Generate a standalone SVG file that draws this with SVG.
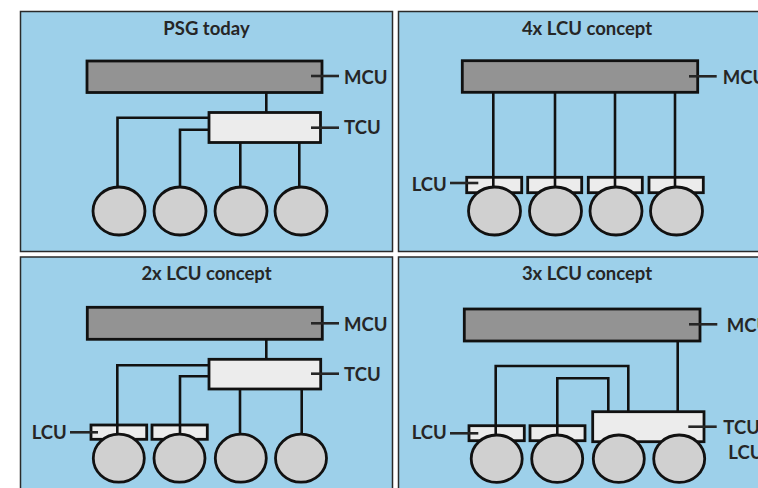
<svg xmlns="http://www.w3.org/2000/svg" width="758" height="488" viewBox="0 0 758 488">
<style>
.panel{fill:#9dd0ea;stroke:#2a2a2a;stroke-width:1.5}
.mcu{fill:#939393;stroke:#111;stroke-width:2.8}
.box{fill:#ececec;stroke:#111;stroke-width:2.8}
.wheel{fill:#d0d0d0;stroke:#111;stroke-width:2.8}
.conn{fill:none;stroke:#111;stroke-width:2.6}
.lead{fill:none;stroke:#262626;stroke-width:2.6}
.title{font-family:Lato,"Liberation Sans",sans-serif;font-weight:bold;font-size:18.5px;fill:#262626;text-anchor:middle}
.lbl{font-family:Lato,"Liberation Sans",sans-serif;font-weight:bold;font-size:18.5px;fill:#262626}
</style>
<rect width="758" height="488" fill="#ffffff"/>
<g id="panels">
<rect class="panel" x="20.5" y="11.5" width="372" height="240"/>
<rect class="panel" x="398.5" y="11.5" width="372" height="240"/>
<rect class="panel" x="20.5" y="257" width="372" height="245"/>
<rect class="panel" x="398.5" y="257" width="372" height="245"/>
</g>
<g id="titles">
<text class="title" x="206.5" y="35">PSG today</text>
<text class="title" x="587" y="35">4x LCU concept</text>
<text class="title" x="206.5" y="280">2x LCU concept</text>
<text class="title" x="587" y="280">3x LCU concept</text>
</g>
<!-- box nodes -->
<g id="p1-mcu"><rect class="mcu" x="87" y="61" width="235" height="31.5"/></g>
<g id="p1-tcu"><rect class="box" x="209" y="112.5" width="111.5" height="30"/></g>
<g id="p2-mcu"><rect class="mcu" x="462.3" y="60.7" width="235.4" height="31.6"/></g>
<g id="p2-lcu1"><rect class="box" x="466.7" y="177.3" width="55" height="15.4"/></g>
<g id="p2-lcu2"><rect class="box" x="527.7" y="177.3" width="54" height="15.4"/></g>
<g id="p2-lcu3"><rect class="box" x="588.3" y="177.3" width="54" height="15.4"/></g>
<g id="p2-lcu4"><rect class="box" x="649" y="177.3" width="54.3" height="15.4"/></g>
<g id="p3-mcu"><rect class="mcu" x="87.3" y="307.3" width="235" height="32"/></g>
<g id="p3-tcu"><rect class="box" x="209" y="359.3" width="111.7" height="29.7"/></g>
<g id="p3-lcu1"><rect class="box" x="91" y="425" width="55.7" height="14.3"/></g>
<g id="p3-lcu2"><rect class="box" x="152" y="425" width="55.3" height="14.3"/></g>
<g id="p4-mcu"><rect class="mcu" x="464.3" y="309" width="235.7" height="32"/></g>
<g id="p4-tculcu"><rect class="box" x="592.7" y="411.7" width="111.3" height="30"/></g>
<g id="p4-lcu1"><rect class="box" x="469" y="425.7" width="55.3" height="15"/></g>
<g id="p4-lcu2"><rect class="box" x="530" y="425.7" width="55" height="15"/></g>
<g id="connectors">
<path class="conn" d="M266.3 92.5V112.5"/>
<path class="conn" d="M209 117.7H117.5V187"/>
<path class="conn" d="M209 129.7H180V187"/>
<path class="conn" d="M240.3 142.5V187"/>
<path class="conn" d="M299.3 142.5V187"/>
<path class="conn" d="M493.3 92.3V187"/>
<path class="conn" d="M555 92.3V187"/>
<path class="conn" d="M615 92.3V187"/>
<path class="conn" d="M675 92.3V187"/>
<path class="conn" d="M266.3 339.3V359.3"/>
<path class="conn" d="M209 365.3H117.3V434"/>
<path class="conn" d="M209 376.3H180V434"/>
<path class="conn" d="M240 389V434"/>
<path class="conn" d="M301.7 389V434"/>
<path class="conn" d="M677.7 341V411.7"/>
<path class="conn" d="M495.7 435V366H628.3V411.7"/>
<path class="conn" d="M557.3 435V378.3H608.3V411.7"/>
</g>
<!-- wheel nodes -->
<g id="p1-w1"><ellipse class="wheel" cx="119" cy="211" rx="26" ry="24"/></g>
<g id="p1-w2"><ellipse class="wheel" cx="180" cy="211" rx="26" ry="24"/></g>
<g id="p1-w3"><ellipse class="wheel" cx="241" cy="211" rx="26" ry="24"/></g>
<g id="p1-w4"><ellipse class="wheel" cx="301" cy="211" rx="26" ry="24"/></g>
<g id="p2-w1"><ellipse class="wheel" cx="494.5" cy="211" rx="26" ry="24"/></g>
<g id="p2-w2"><ellipse class="wheel" cx="555.5" cy="211" rx="26" ry="24"/></g>
<g id="p2-w3"><ellipse class="wheel" cx="616" cy="211" rx="26" ry="24"/></g>
<g id="p2-w4"><ellipse class="wheel" cx="676.5" cy="211" rx="26" ry="24"/></g>
<g id="p3-w1"><ellipse class="wheel" cx="118.8" cy="458.2" rx="25.5" ry="24"/></g>
<g id="p3-w2"><ellipse class="wheel" cx="179.5" cy="458.2" rx="25.5" ry="24"/></g>
<g id="p3-w3"><ellipse class="wheel" cx="240.8" cy="458.2" rx="25.5" ry="24"/></g>
<g id="p3-w4"><ellipse class="wheel" cx="301" cy="458.2" rx="25.5" ry="24"/></g>
<g id="p4-w1"><ellipse class="wheel" cx="496.7" cy="458.7" rx="25.5" ry="23.7"/></g>
<g id="p4-w2"><ellipse class="wheel" cx="557.2" cy="458.7" rx="25.5" ry="23.7"/></g>
<g id="p4-w3"><ellipse class="wheel" cx="618.8" cy="458.7" rx="25.5" ry="23.7"/></g>
<g id="p4-w4"><ellipse class="wheel" cx="679.2" cy="458.7" rx="25.5" ry="23.7"/></g>
<g id="labels">
<path class="lead" d="M311 76H339"/>
<text class="lbl" x="344" y="84">MCU</text>
<path class="lead" d="M311 127.7H339"/>
<text class="lbl" x="344" y="134">TCU</text>
<path class="lead" d="M689 76.3H716.7"/>
<text class="lbl" x="722.7" y="84">MCU</text>
<path class="lead" d="M450 183H478.3"/>
<text class="lbl" x="411.7" y="191">LCU</text>
<path class="lead" d="M311 323.3H339"/>
<text class="lbl" x="344" y="330.5">MCU</text>
<path class="lead" d="M311 373.7H339"/>
<text class="lbl" x="344" y="381">TCU</text>
<path class="lead" d="M70 432.3H98"/>
<text class="lbl" x="31.7" y="439">LCU</text>
<path class="lead" d="M689 324.3H717.3"/>
<text class="lbl" x="726.7" y="331.5">MCU</text>
<path class="lead" d="M688.3 426.7H716.7"/>
<text class="lbl" x="723.3" y="433.5">TCU/</text>
<text class="lbl" x="728.3" y="458.5">LCU</text>
<path class="lead" d="M450 433.3H478.3"/>
<text class="lbl" x="411.7" y="439">LCU</text>
</g>
</svg>
